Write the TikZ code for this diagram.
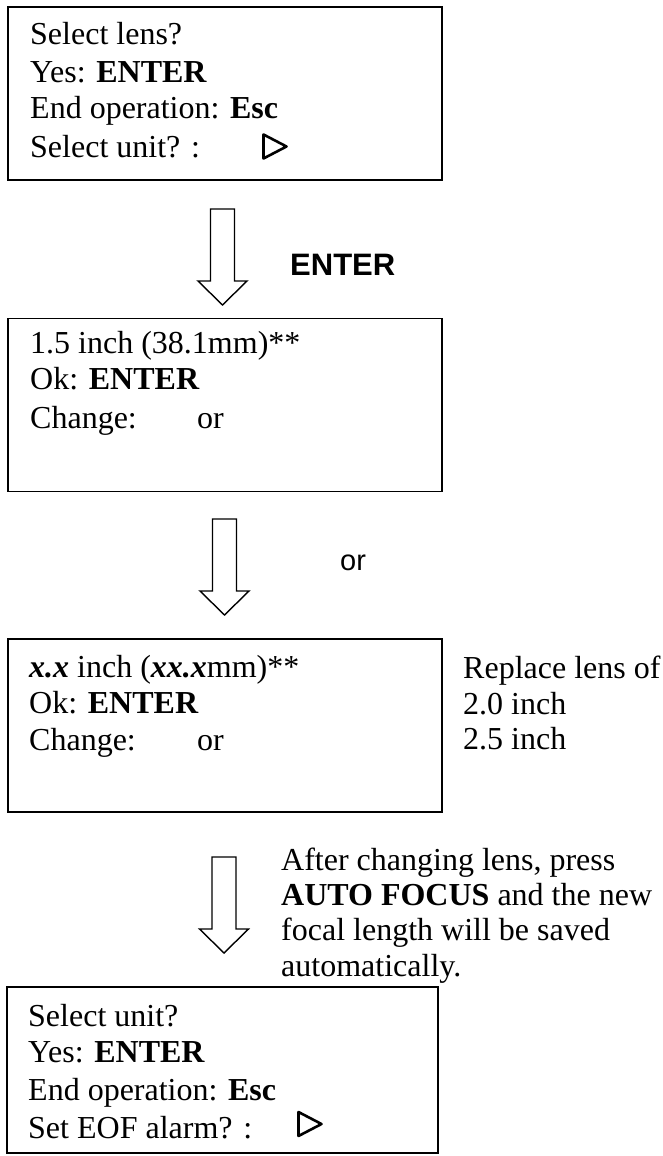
\documentclass[tikz,border=0pt]{standalone}
\usepackage{fontspec}
\setmainfont{Liberation Serif}
\setsansfont{Liberation Sans}

% hollow down arrow: x of the axis, y of the top, y of the tip
\newcommand{\hollowarrow}[3]{%
  \draw[line width=1.4pt] (#1-12,#2) -- (#1+12,#2) -- (#1+12,#3-24) -- (#1+24.5,#3-24)
    -- (#1,#3) -- (#1-24.5,#3-24) -- (#1-12,#3-24) -- cycle;}
% small right pointing triangle: left x, middle y
\newcommand{\playmark}[2]{%
  \draw[line width=2.6pt,line join=round] (#1,#2-12) -- (#1+23,#2) -- (#1,#2+12) -- cycle;}

\begin{document}
\begin{tikzpicture}[x=1pt,y=-1pt]
\tikzset{
  screen/.style={draw, line width=1.4pt, minimum width=434pt, minimum height=173pt, inner sep=0pt},
  line/.style={anchor=base west, inner sep=0pt, font=\fontsize{32}{38}\selectfont},
  key/.style={anchor=base west, inner sep=0pt, font=\sffamily\fontsize{29}{34}\selectfont},
}
\useasboundingbox (0,0) rectangle (663,1156);

% screens
\node[screen] (s1) at (225,93.5) {};
\node[screen] (s2) at (225,405) {};
\node[screen] (s3) at (225,725.5) {};
\node[screen, minimum width=431pt, minimum height=166pt] (s4) at (222.5,1070) {};

\node[line] (s1a) at (30,45) {Select lens?};
\node[line] (s1b) at (30,82) {Yes: \textbf{ENTER}};
\node[line] (s1c) at (30,118) {End operation: \textbf{Esc}};
\node[line] (s1d) at (30,157) {Select unit? :};
\playmark{263.5}{146.5}

\node[line] (s2a) at (30,353) {1.5 inch (38.1mm)**};
\node[line] (s2b) at (30,389) {Ok: \textbf{ENTER}};
\node[line] (s2c) at (30,428) {Change:};
\node[line] (s2d) at (197,428) {or};

\node[line] (s3a) at (29,677) {\textbf{\textit{x.x}} inch (\textbf{\textit{xx.x}}mm)**};
\node[line] (s3b) at (29,713) {Ok: \textbf{ENTER}};
\node[line] (s3c) at (29,750) {Change:};
\node[line] (s3d) at (197,750) {or};

\node[line] (s4a) at (28,1026) {Select unit?};
\node[line] (s4b) at (28,1062) {Yes: \textbf{ENTER}};
\node[line] (s4c) at (28,1100) {End operation: \textbf{Esc}};
\node[line] (s4d) at (28,1138) {Set EOF alarm? :};
\playmark{298.5}{1124}

% steps between the screens
\hollowarrow{222.5}{209}{305}
\node[key, font=\sffamily\bfseries\fontsize{31}{36}\selectfont] (k1) at (290,275) {ENTER};
\hollowarrow{224.5}{519}{615}
\node[key] (k2) at (340,570) {or};
\hollowarrow{224}{857}{953}

% side notes
\node[line] (r1) at (463,678) {Replace lens of};
\node[line] (r2) at (463,714) {2.0 inch};
\node[line] (r3) at (463,749) {2.5 inch};

\node[line] (n1) at (281,870) {After changing lens, press};
\node[line] (n2) at (281,905) {\textbf{AUTO FOCUS} and the new};
\node[line] (n3) at (281,940) {focal length will be saved};
\node[line] (n4) at (281,976) {automatically.};
\end{tikzpicture}
\end{document}
